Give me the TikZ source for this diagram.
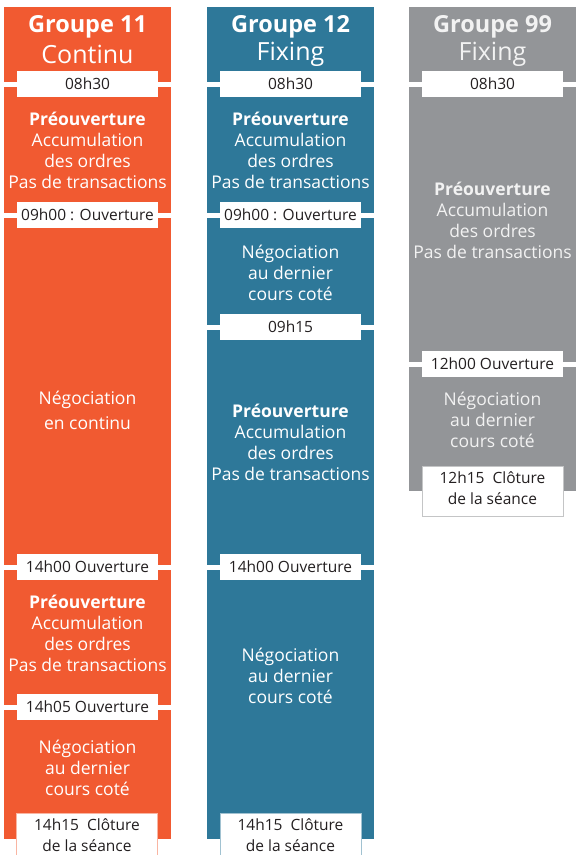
\documentclass[tikz,border=0pt]{standalone}
\usepackage{fontspec}
\setmainfont{Open Sans}
\definecolor{corange}{HTML}{F15A31}
\definecolor{cblue}{HTML}{2E7899}
\definecolor{cgray}{HTML}{939598}
\definecolor{ctext}{HTML}{231F20}
\definecolor{ctxtgray}{HTML}{F2F2F2}
\pgfdeclarelayer{bg}
\pgfdeclarelayer{mid}
\pgfsetlayers{bg,mid,main}
\begin{document}
\begin{tikzpicture}[x=1pt,y=-1pt,
  col/.style={anchor=north west, inner sep=0pt, minimum width=167pt},
  lbl/.style={fill=white, inner sep=0pt, minimum width=141pt, minimum height=26pt, text=ctext, font=\fontsize{15.5}{17}\selectfont},
  endlbl/.style={fill=white, inner sep=0pt, minimum width=141pt, text=ctext, font=\fontsize{15.5}{21}\selectfont, align=center, anchor=north},
  body/.style={text=white, font=\fontsize{17.5}{21}\selectfont, align=center},
  title/.style={text=white, align=center},
  gap/.style={white, line width=5pt}
]
\useasboundingbox (0,0) rectangle (580,855);
% columns
\begin{pgfonlayer}{bg}
\node[col, fill=corange, minimum height=832pt] (c1) at (4,7) {};
\node[col, fill=cblue, minimum height=832pt] (c2) at (207,7) {};
\node[col, fill=cgray, minimum height=484pt] (c3) at (409,7) {};
\end{pgfonlayer}

% titles
\node[title, font=\fontsize{23.5}{26}\selectfont\bfseries] (t1) at (87.5,26.5) {Groupe 11};
\node[title, font=\fontsize{25}{26}\selectfont] (s1) at (87.5,54.5) {Continu};
\node[title, font=\fontsize{23.5}{26}\selectfont\bfseries] (t2) at (290.5,26.5) {Groupe 12};
\node[title, font=\fontsize{25}{26}\selectfont] (s2) at (290.5,54.5) {Fixing};
\node[title, text=ctxtgray, font=\fontsize{23.5}{26}\selectfont\bfseries] (t3) at (492.5,26.5) {Groupe 99};
\node[title, text=ctxtgray, font=\fontsize{25}{26}\selectfont] (s3) at (492.5,54.5) {Fixing};

% column 1
\node[lbl] (l11) at (87.5,84) {08h30};
\node[lbl] (l12) at (87.5,215) {09h00 : Ouverture};
\node[lbl] (l13) at (87.5,567) {14h00 Ouverture};
\node[lbl] (l14) at (87.5,707) {14h05 Ouverture};
\node[body] (b11) at (87.5,150) {\textbf{Préouverture}\\Accumulation\\des ordres\\Pas de transactions};
\node[body, font=\fontsize{17.5}{25}\selectfont] (b12) at (87.5,410) {Négociation\\en continu};
\node[body] (b13) at (87.5,633.5) {\textbf{Préouverture}\\Accumulation\\des ordres\\Pas de transactions};
\node[body] (b14) at (87.5,767.5) {Négociation\\au dernier\\cours coté};

% column 2
\node[lbl] (l21) at (290.5,84) {08h30};
\node[lbl] (l22) at (290.5,215) {09h00 : Ouverture};
\node[lbl] (l23) at (290.5,327) {09h15};
\node[lbl] (l24) at (290.5,567) {14h00 Ouverture};
\node[body] (b21) at (290.5,150) {\textbf{Préouverture}\\Accumulation\\des ordres\\Pas de transactions};
\node[body] (b22) at (290.5,272.5) {Négociation\\au dernier\\cours coté};
\node[body] (b23) at (290.5,442.5) {\textbf{Préouverture}\\Accumulation\\des ordres\\Pas de transactions};
\node[body] (b24) at (290.5,675.5) {Négociation\\au dernier\\cours coté};

% column 3
\node[lbl] (l31) at (492.5,84) {08h30};
\node[lbl] (l32) at (492.5,364) {12h00 Ouverture};
\node[body, text=ctxtgray] (b31) at (492.5,220.5) {\textbf{Préouverture}\\Accumulation\\des ordres\\Pas de transactions};
\node[body, text=ctxtgray] (b32) at (492.5,419.5) {Négociation\\au dernier\\cours coté};

% gaps between periods
\begin{pgfonlayer}{mid}
\foreach \c/\l in {c1/l11,c1/l12,c1/l13,c1/l14,c2/l21,c2/l22,c2/l23,c2/l24,c3/l31,c3/l32}{
  \draw[gap] (\c.west |- \l.center) -- (\c.east |- \l.center);
}
\end{pgfonlayer}

% closing labels
\node[endlbl, draw=corange!45, minimum height=50pt] (e1) at (87,812.5) {};
\node[endlbl, draw=cblue!45, minimum height=50pt] (e2) at (290.5,812.5) {};
\node[endlbl, draw=cgray!55, minimum height=50pt] (e3) at (492.5,466) {};
\node[endlbl, fill=none, anchor=center] (f1) at (87,835.5) {14h15\ \ Clôture\\de la séance};
\node[endlbl, fill=none, anchor=center] (f2) at (290.5,835.5) {14h15\ \ Clôture\\de la séance};
\node[endlbl, fill=none, anchor=center] (f3) at (492.5,488) {12h15\ \ Clôture\\de la séance};
\end{tikzpicture}
\end{document}
